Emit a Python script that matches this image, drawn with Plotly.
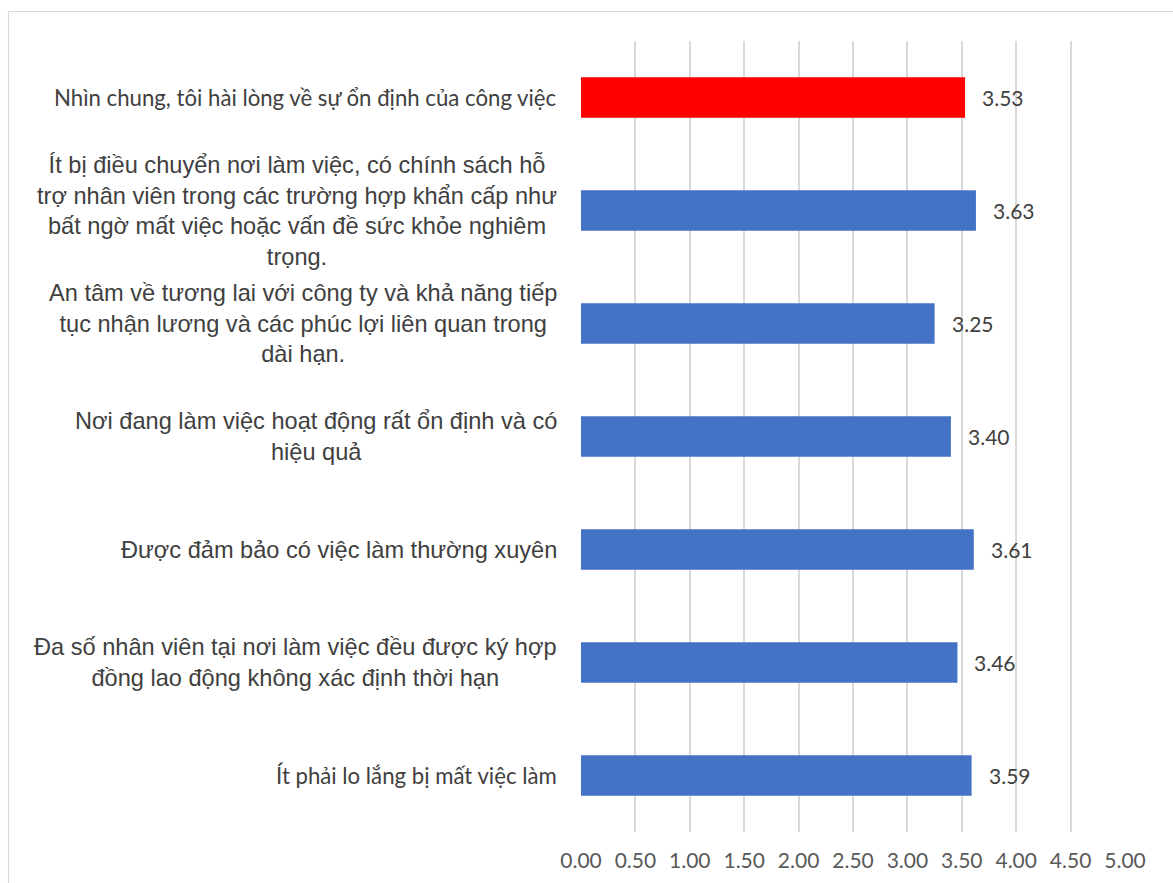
import plotly.graph_objects as go

# Survey items (top to bottom) and their mean scores
items = [
    "Nhìn chung, tôi hài lòng về sự ổn định của công việc",
    "Ít bị điều chuyển nơi làm việc, có chính sách hỗ<br>trợ nhân viên trong các trường hợp khẩn cấp như<br>bất ngờ mất việc hoặc vấn đề sức khỏe nghiêm<br>trọng.",
    "An tâm về tương lai với công ty và khả năng tiếp<br>tục nhận lương và các phúc lợi liên quan trong<br>dài hạn.",
    "Nơi đang làm việc hoạt động rất ổn định và có<br>hiệu quả",
    "Được đảm bảo có việc làm thường xuyên",
    "Đa số nhân viên tại nơi làm việc đều được ký hợp<br>đồng lao động không xác định thời hạn",
    "Ít phải lo lắng bị mất việc làm",
]
scores = [3.53, 3.63, 3.25, 3.40, 3.61, 3.46, 3.59]
bar_colors = ["#FF0000", "#4472C4", "#4472C4", "#4472C4", "#4472C4", "#4472C4", "#4472C4"]
label_fonts = ["Lato", "Liberation Sans", "Liberation Sans", "Liberation Sans",
               "Liberation Sans", "Liberation Sans", "Lato"]
tick_vals = [0, 0.5, 1, 1.5, 2, 2.5, 3, 3.5, 4, 4.5, 5]
tick_text = ["0.00", "0.50", "1.00", "1.50", "2.00", "2.50", "3.00", "3.50", "4.00", "4.50", "5.00"]

W, H = 1173, 883
ML, MR, MT, MB = 581, 48, 41, 51
PW, PH = W - ML - MR, H - MT - MB

cats = list(range(len(items)))

fig = go.Figure(go.Bar(
    x=scores, y=cats, orientation="h",
    marker=dict(color=bar_colors, line=dict(width=0)),
    width=0.36,
    hoverinfo="skip",
))

annotations = []
for i, (txt, fnt) in enumerate(zip(items, label_fonts)):
    size = 22.2 if fnt == "Lato" else 23.6
    annotations.append(dict(
        x=0, xref="paper", y=i, yref="y", text=txt,
        xanchor="right", yanchor="middle", align="center", xshift=-22,
        showarrow=False, font=dict(family=fnt, size=size, color="#404040"),
    ))
for i, v in enumerate(scores):
    annotations.append(dict(
        x=v, xref="x", y=i, yref="y", text=f"{v:.2f}",
        xanchor="left", yanchor="middle", xshift=15,
        showarrow=False, font=dict(family="Lato", size=21, color="#404040"),
    ))

# light chart-area frame
fx0 = (8.5 - ML) / PW
fy1 = 1 + (MT - 11.5) / PH
fig.add_shape(type="rect", xref="paper", yref="paper",
              x0=fx0, x1=(W + 10 - ML) / PW, y0=-1, y1=fy1,
              line=dict(color="#D9D9D9", width=1.2), layer="below")

fig.update_layout(
    width=W, height=H,
    margin=dict(l=ML, r=MR, t=MT, b=MB, autoexpand=False),
    paper_bgcolor="white", plot_bgcolor="white",
    showlegend=False,
    annotations=annotations,
    xaxis=dict(range=[0, 5], tickvals=tick_vals, ticktext=tick_text,
               showgrid=True, gridcolor="#D9D9D9", gridwidth=1.5,
               zeroline=False, showline=False, ticks="",
               tickfont=dict(family="Lato", size=21, color="#595959"),
               ticklabelstandoff=14, automargin=False, fixedrange=True),
    yaxis=dict(range=[len(items) - 0.5, -0.5], showticklabels=False,
               showgrid=False, zeroline=False, showline=False, ticks="",
               automargin=False, fixedrange=True),
)

fig.write_html("out.html")
